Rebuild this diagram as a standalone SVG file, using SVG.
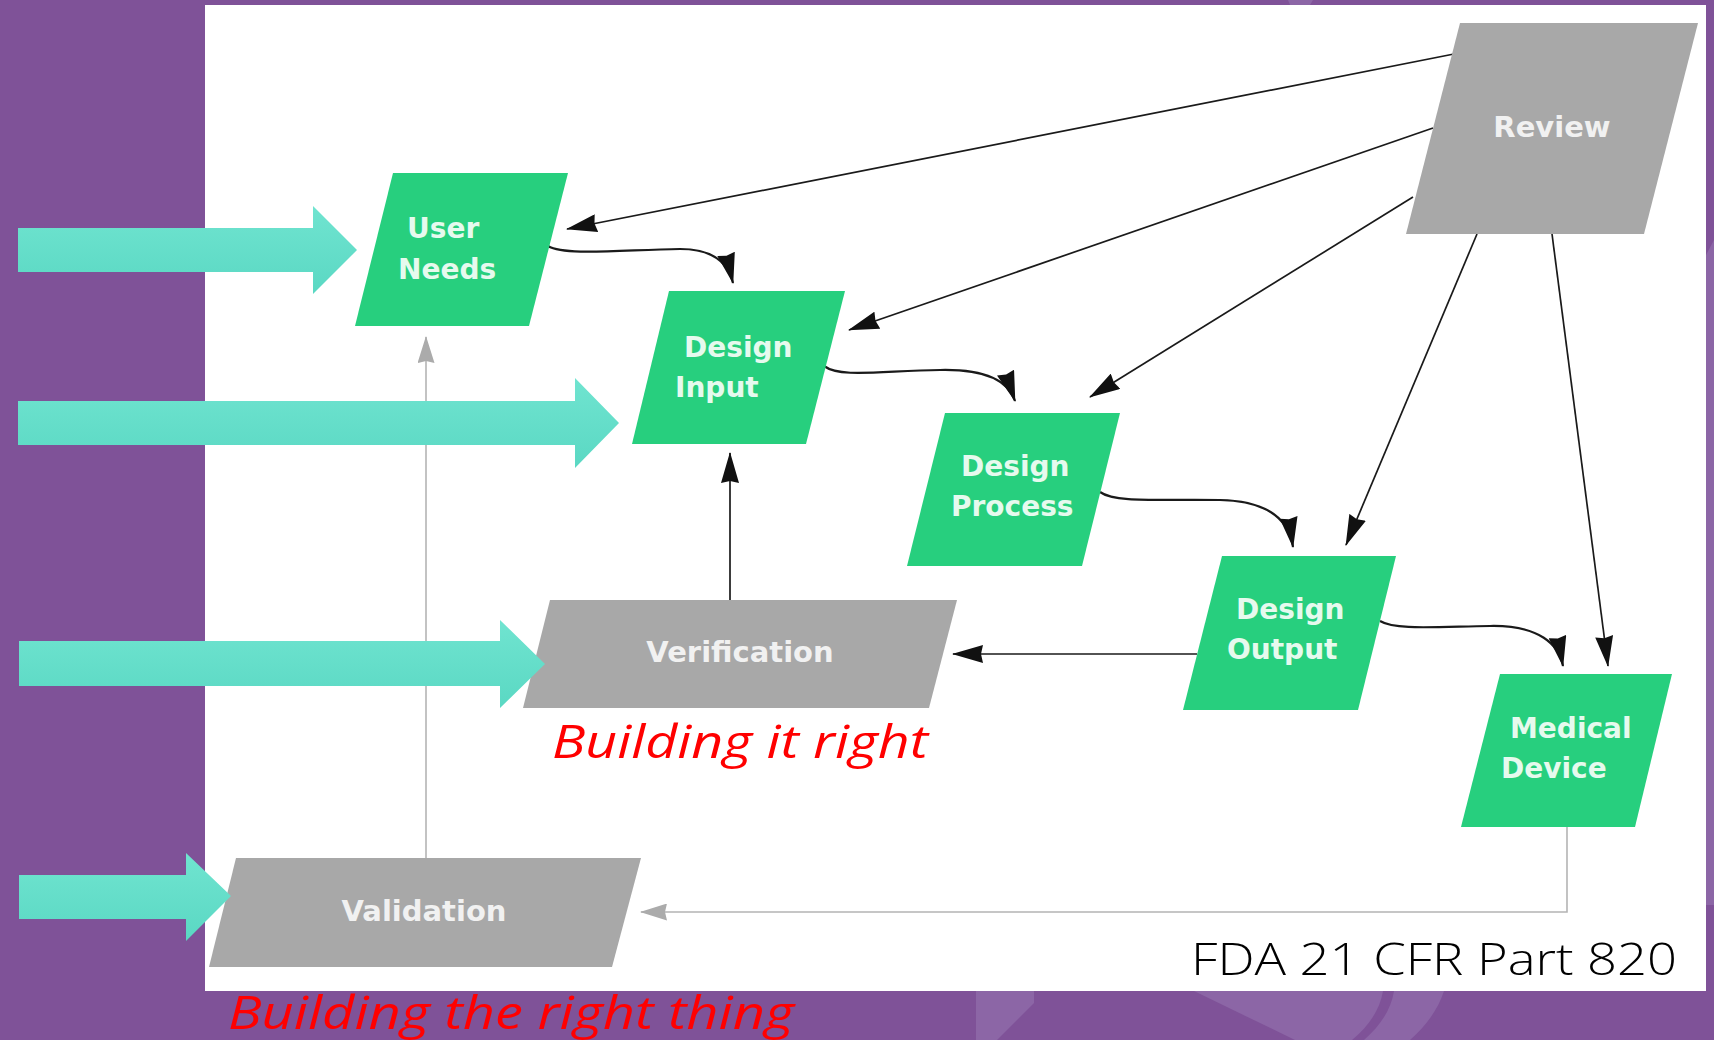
<svg xmlns="http://www.w3.org/2000/svg" width="1714" height="1040" viewBox="0 0 1714 1040">
  <defs>
    <linearGradient id="tealFill" x1="0" y1="0" x2="0" y2="1">
      <stop offset="0" stop-color="#70E4D0"/>
      <stop offset="1" stop-color="#5AD8C3"/>
    </linearGradient>
    <marker id="headDark" viewBox="0 0 31 18" refX="30" refY="9" markerWidth="31" markerHeight="18" markerUnits="userSpaceOnUse" orient="auto">
      <path d="M0,0 L31,9 L0,18 L2,9 z" fill="#111"/>
    </marker>
    <marker id="headGrey" viewBox="0 0 27 17" refX="26" refY="8.5" markerWidth="27" markerHeight="17" markerUnits="userSpaceOnUse" orient="auto">
      <path d="M0,0 L27,8.5 L0,17 L2,8.5 z" fill="#ABABAB"/>
    </marker>
    <style>
      .green { fill: #27CF7E; }
      .grey { fill: #A8A8A8; }
      .lbl { font-family: "DejaVu Sans", "Liberation Sans", sans-serif; font-weight: bold; font-size: 28px; fill: #E6FAEE; }
      .glbl { font-family: "DejaVu Sans", "Liberation Sans", sans-serif; font-weight: bold; font-size: 29px; fill: #F1F1F1; text-anchor: middle; }
      .teal { fill: url(#tealFill); }
      .link { fill: none; stroke: #1A1A1A; stroke-width: 1.7; marker-end: url(#headDark); }
      .curve { fill: none; stroke: #1A1A1A; stroke-width: 2.2; marker-end: url(#headDark); }
      .faint { fill: none; stroke: #B4B4B4; stroke-width: 1.6; marker-end: url(#headGrey); }
      .note { font-family: "Open Sans", "Liberation Sans", sans-serif; font-style: italic; font-size: 46px; fill: #FF0000; }
      .deco { fill: #8C66A6; }
    </style>
  </defs>

  <!-- slide background -->
  <rect x="0" y="0" width="1714" height="1040" fill="#7F5298"/>
  <polygon class="deco" points="1288,0 1313,0 1310,5 1290,5"/>
  <polygon class="deco" points="1706,255 1714,240 1714,905 1706,905"/>
  <polygon class="deco" points="976,991 1034,991 1034,1003 997,1040 976,1040"/>
  <path class="deco" d="M1194,991 L1383,991 C1380,1010 1368,1027 1352,1040 L1295,1040 Z"/>
  <path class="deco" d="M1394,991 L1444,991 C1438,1010 1425,1027 1410,1040 L1364,1040 C1380,1026 1391,1010 1394,991 Z"/>

  <!-- white diagram panel -->
  <rect x="205" y="5" width="1501" height="986" fill="#FFFFFF"/>

  <!-- connectors -->
  <g id="connectors">
    <path class="link" d="M1454,54 L567,229"/>
    <path class="link" d="M1433,128 L849,330"/>
    <path class="link" d="M1413,197 L1090,397"/>
    <path class="link" d="M1477,234 L1346,545"/>
    <path class="link" d="M1552,234 L1608,666"/>
    <path class="curve" d="M548,246 C565,256 620,250 680,249 C712,249 728,262 733,283"/>
    <path class="curve" d="M824,366 C840,378 880,371 940,370 C985,369 1008,380 1015,401"/>
    <path class="curve" d="M1100,492 C1115,503 1160,499 1220,500 C1268,501 1289,520 1293,547"/>
    <path class="curve" d="M1380,621 C1395,630 1430,627 1490,626 C1540,625 1559,645 1563,666"/>
    <path class="link" d="M1197,654 L953,654"/>
    <path class="link" d="M730,600 L730,453"/>
    <path class="faint" d="M426,858 L426,337"/>
    <path class="faint" d="M1567,827 L1567,912 L641,912"/>
  </g>

  <!-- process nodes -->
  <g id="user-needs">
    <polygon class="green" points="393,173 568,173 529,326 355,326"/>
    <text class="lbl" x="407" y="238">User</text>
    <text class="lbl" x="398" y="279">Needs</text>
  </g>
  <g id="design-input">
    <polygon class="green" points="669,291 845,291 806,444 632,444"/>
    <text class="lbl" x="684" y="357">Design</text>
    <text class="lbl" x="675" y="397">Input</text>
  </g>
  <g id="design-process">
    <polygon class="green" points="945,413 1120,413 1082,566 907,566"/>
    <text class="lbl" x="961" y="476">Design</text>
    <text class="lbl" x="951" y="516">Process</text>
  </g>
  <g id="design-output">
    <polygon class="green" points="1222,556 1396,556 1358,710 1183,710"/>
    <text class="lbl" x="1236" y="619">Design</text>
    <text class="lbl" x="1227" y="659">Output</text>
  </g>
  <g id="medical-device">
    <polygon class="green" points="1500,674 1672,674 1635,827 1461,827"/>
    <text class="lbl" x="1510" y="738">Medical</text>
    <text class="lbl" x="1501" y="778">Device</text>
  </g>
  <g id="review">
    <polygon class="grey" points="1460,23 1698,23 1644,234 1406,234"/>
    <text class="glbl" x="1552" y="137">Review</text>
  </g>
  <g id="verification">
    <polygon class="grey" points="550,600 957,600 929,708 523,708"/>
    <text class="glbl" x="740" y="662">Verification</text>
  </g>
  <g id="validation">
    <polygon class="grey" points="236,858 641,858 612,967 209,967"/>
    <text class="glbl" x="424" y="921">Validation</text>
  </g>

  <!-- pointer arrows -->
  <g id="pointer-arrows">
    <polygon class="teal" points="18,228 313,228 313,206 357,250 313,294 313,272 18,272"/>
    <polygon class="teal" points="18,401 575,401 575,378 619,423 575,468 575,445 18,445"/>
    <polygon class="teal" points="19,641 500,641 500,620 545,664 500,708 500,686 19,686"/>
    <polygon class="teal" points="19,875 186,875 186,853 231,896 186,941 186,919 19,919"/>
  </g>

  <!-- annotations -->
  <text class="note" x="552" y="758" textLength="376" lengthAdjust="spacingAndGlyphs">Building it right</text>
  <text class="note" x="228" y="1029" textLength="566" lengthAdjust="spacingAndGlyphs">Building the right thing</text>
  <text x="1191" y="975" font-family="Open Sans, Liberation Sans, sans-serif" font-weight="300" font-size="45" fill="#000000" textLength="486" lengthAdjust="spacingAndGlyphs">FDA 21 CFR Part 820</text>
</svg>
